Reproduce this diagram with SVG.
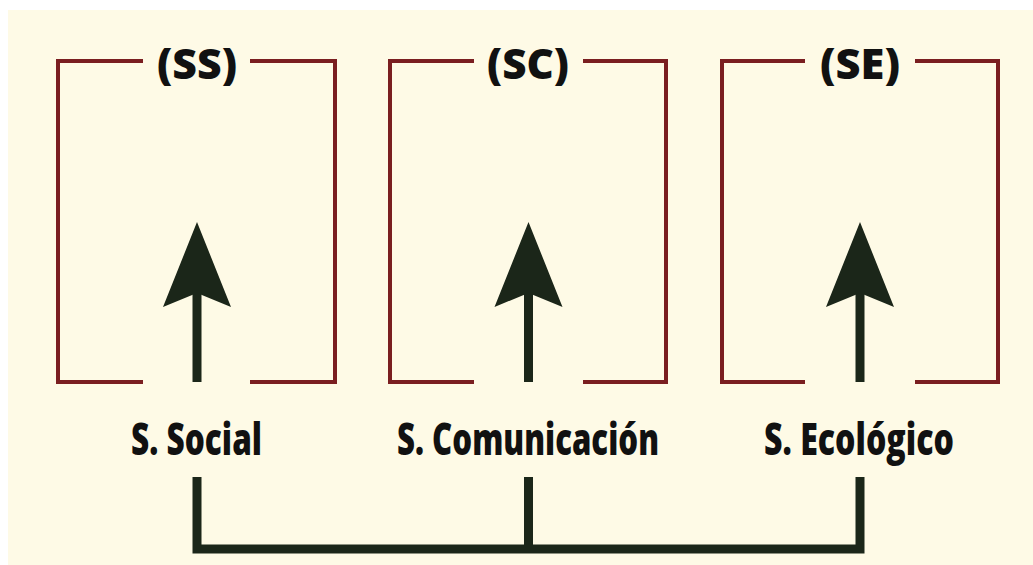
<svg xmlns="http://www.w3.org/2000/svg" width="1033" height="565" viewBox="0 0 1033 565">
  <style>
    .bracket { fill: none; stroke: #7a1e20; stroke-width: 4; stroke-linecap: butt; stroke-linejoin: miter; }
    .title { font-family: "Open Sans", "Liberation Sans", sans-serif; font-weight: 800; font-size: 42px; fill: #111111; text-anchor: middle; }
    .label { font-family: "Open Sans", "Liberation Sans", sans-serif; font-weight: 800; font-size: 45px; fill: #111111; }
    .arrow { fill: #1b2619; }
    .link { fill: none; stroke: #1b2619; stroke-width: 9; stroke-linecap: butt; stroke-linejoin: miter; }
  </style>
  <defs>
    <!-- upward arrow centred on x=0 -->
    <g id="up-arrow">
      <path class="arrow" d="M0 222 L34 307 L0 293 L-34 307 Z"/>
      <rect class="arrow" x="-4.5" y="290" width="9" height="92"/>
    </g>
  </defs>

  <rect x="0" y="0" width="1033" height="565" fill="#ffffff"/>
  <rect x="8" y="10" width="1025" height="555" fill="#fefae6"/>

  <g id="node-ss">
    <path class="bracket" d="M143 61 H58 V382 H143"/>
    <path class="bracket" d="M250 61 H335 V382 H250"/>
    <text class="title" x="197" y="79" textLength="80" lengthAdjust="spacingAndGlyphs">(SS)</text>
    <use href="#up-arrow" x="197"/>
    <text class="label" x="131" y="455" textLength="131" lengthAdjust="spacingAndGlyphs">S. Social</text>
  </g>

  <g id="node-sc">
    <path class="bracket" d="M474 61 H390 V382 H474"/>
    <path class="bracket" d="M583 61 H666 V382 H583"/>
    <text class="title" x="528" y="79" textLength="82" lengthAdjust="spacingAndGlyphs">(SC)</text>
    <use href="#up-arrow" x="528.5"/>
    <text class="label" x="397" y="455" textLength="262" lengthAdjust="spacingAndGlyphs">S. Comunicación</text>
  </g>

  <g id="node-se">
    <path class="bracket" d="M805 61 H722 V382 H805"/>
    <path class="bracket" d="M915 61 H998 V382 H915"/>
    <text class="title" x="860" y="79" textLength="80" lengthAdjust="spacingAndGlyphs">(SE)</text>
    <use href="#up-arrow" x="860"/>
    <text class="label" x="764" y="455" textLength="190" lengthAdjust="spacingAndGlyphs">S. Ecológico</text>
  </g>

  <g id="connectors">
    <path class="link" d="M197 477 V549 H860 V477"/>
    <path class="link" d="M528.5 477 V549"/>
  </g>
</svg>
